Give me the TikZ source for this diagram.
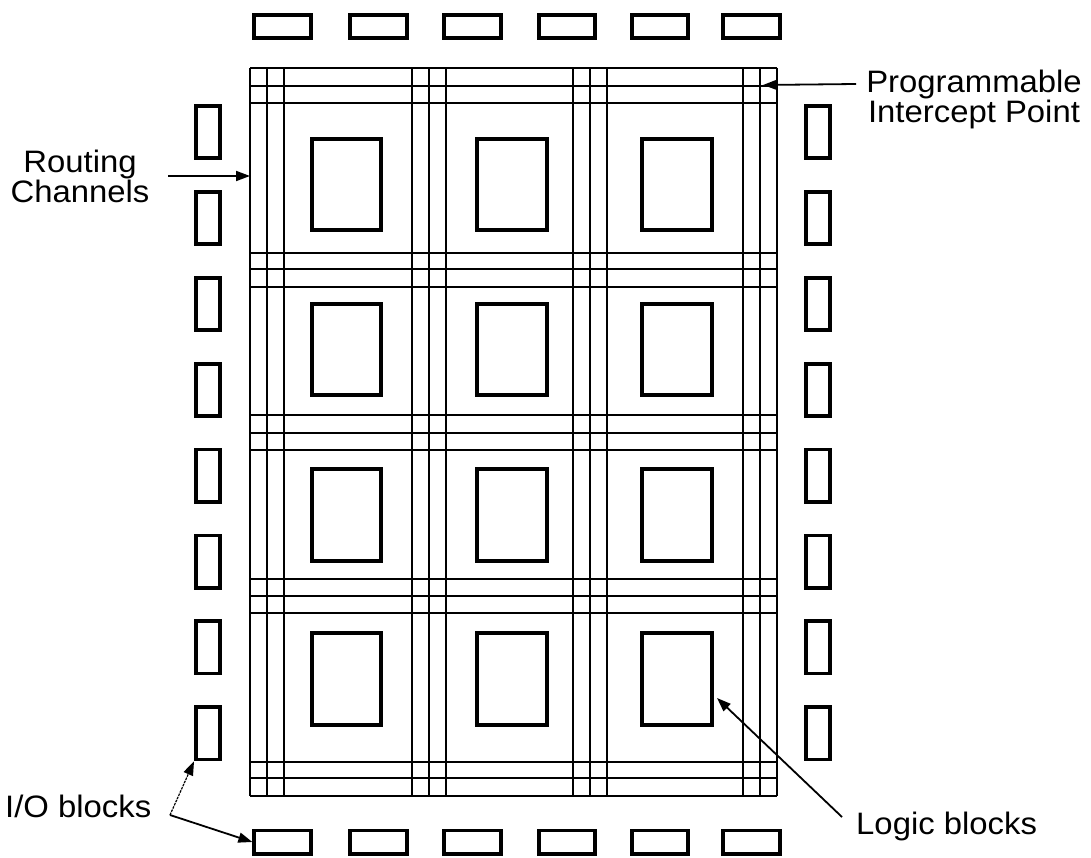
\documentclass[tikz,border=0pt]{standalone}
\usepackage{fontspec}
\setmainfont{Liberation Sans}
\newfontfamily\labelfont[FakeStretch=1.06]{Liberation Sans}
\usetikzlibrary{arrows.meta}
\begin{document}
\begin{tikzpicture}[x=1pt,y=-1pt,
  gridline/.style={line width=1.5pt},
  blk/.style={draw, rectangle, line width=3.8pt, inner sep=0pt},
  logicblk/.style={blk, minimum width=69.5pt, minimum height=91.5pt},
  iohoriz/.style={blk, minimum width=56.5pt, minimum height=23.2pt},
  iovert/.style={blk, minimum width=24.2pt, minimum height=52.2pt},
  lbl/.style={font=\labelfont\fontsize{31}{30}\selectfont, inner sep=0pt, align=center},
  pointer/.style={line width=1.8pt, -{Triangle[length=14pt,width=10pt]}},
  faintpointer/.style={line width=1.2pt, dash pattern=on 2.5pt off 1pt, -{Triangle[length=14pt,width=10pt]}},
]
\useasboundingbox (0,0) rectangle (1091,858);
% routing channels
\foreach \gx in {250,267,284,412,429,446,573,590,607,743,760,777}
  \draw[gridline] (\gx,68) -- (\gx,796);
\foreach \gy in {68,86,103,253,269,287,415,433,450,579,596,613,762,778,796}
  \draw[gridline] (250,\gy) -- (777,\gy);
% logic blocks
\foreach \r/\cy in {1/184.5,2/349.5,3/515,4/679}
  \foreach \c/\cx in {1/346.5,2/512,3/677}
    \node[logicblk] (lb\r\c) at (\cx,\cy) {};
% I/O blocks top and bottom
\foreach \i/\cx in {1/282.5,2/378.5,3/472.5,4/567,5/660,6/751.5}{
  \node[iohoriz] (tio\i) at (\cx,26.5) {};
  \node[iohoriz] (bio\i) at (\cx,842) {};
}
% I/O blocks left and right
\foreach \i in {1,...,8}{
  \pgfmathsetmacro{\cy}{132+85.9*(\i-1)}
  \node[iovert] (lio\i) at (208,\cy) {};
  \node[iovert] (rio\i) at (818,\cy) {};
}
% labels
\node[lbl] (rc) at (80,176.5) {Routing\\Channels};
\node[lbl] (pip) at (974,99.5) {Programmable\\Intercept Point};
\node[lbl, anchor=base west] (iob) at (5,817) {I/O blocks};
\node[lbl, anchor=base west] (lgb) at (856,834) {Logic blocks};
% pointer ends
\coordinate (rcTail) at (168,176);
\coordinate (rcTip) at (250,176);
\coordinate (pipTail) at (856,84);
\coordinate (pipTip) at (763,85);
\coordinate (lgbTail) at (842,817);
\coordinate (lgbTip) at (717,698);
\coordinate (iobTail) at (170,815);
% pointers
\draw[pointer] (rcTail) -- (rcTip);
\draw[pointer] (pipTail) -- (pipTip);
\draw[pointer] (lgbTail) -- (lgbTip);
\draw[faintpointer] (iobTail) -- (lio8.south west);
\draw[pointer] (iobTail) -- (bio1.west);
\end{tikzpicture}
\end{document}
